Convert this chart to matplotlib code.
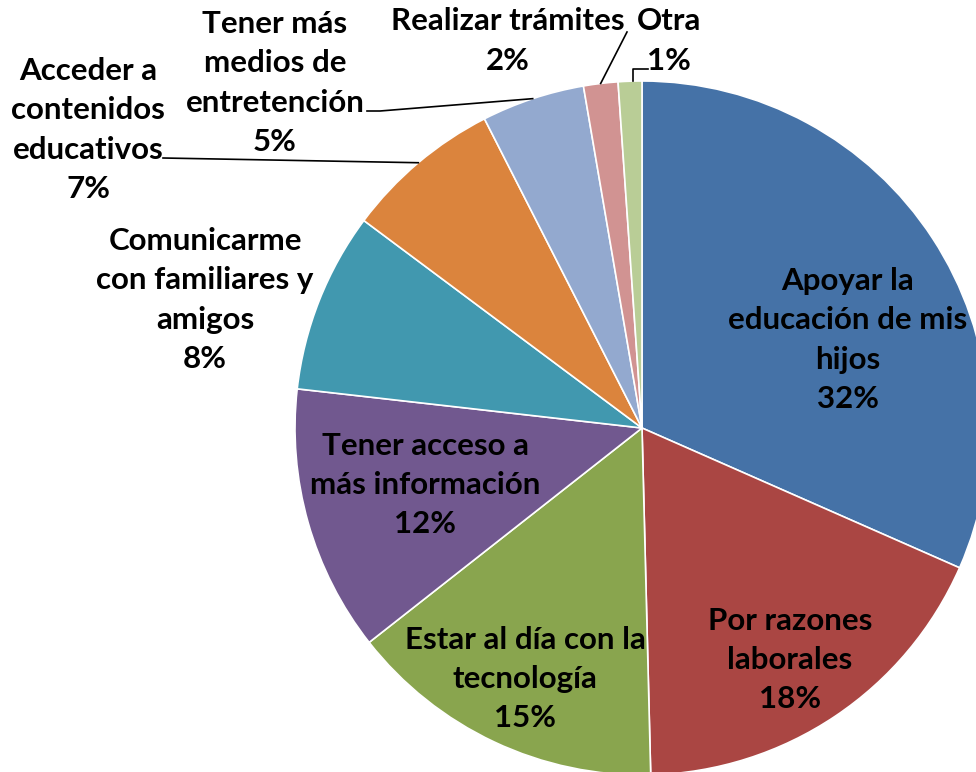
from matplotlib import pyplot as plt
import numpy as np

# motivos (orden de la torta, desde arriba en sentido horario)
labels = ['Apoyar la\neducación de mis\nhijos', 'Por razones\nlaborales',
          'Estar al día con la\ntecnología', 'Tener acceso a\nmás información',
          'Comunicarme\ncon familiares y\namigos', 'Acceder a\ncontenidos\neducativos',
          'Tener más\nmedios de\nentretención', 'Realizar trámites', 'Otra']
values = [31.6, 18.0, 14.8, 12.4, 8.4, 7.3, 4.8, 1.6, 1.1]
pcts = ['32%', '18%', '15%', '12%', '8%', '7%', '5%', '2%', '1%']
colors = ['#4572A7', '#AA4643', '#89A54E', '#71588F', '#4198AF',
          '#DB843D', '#93A9CF', '#D19392', '#B9CD96']

W, H = 976, 772
cx, cy, R = 642, H - 428, 347

# label positions (pixels, y from top)
lab_xy = [(848, 340), (790, 660), (525, 679), (425, 485), (205, 300),
          (88, 130), (275, 83), (508, 41), (669, 41)]
# text-side ends of leader lines (only for outside labels)
leaders = {5: [(163, 158)], 6: [(367, 111), (380, 111)],
           7: [(627, 32)], 8: [(648, 69), (633, 69)]}

fig = plt.figure(figsize=(W / 100, H / 100), dpi=100)
ax = fig.add_axes([0, 0, 1, 1])
wedges, _ = ax.pie(values, colors=colors, startangle=90, counterclock=False,
                   center=(cx, cy), radius=R,
                   wedgeprops=dict(edgecolor='white', linewidth=1.2))
ax.set_xlim(0, W)
ax.set_ylim(0, H)
ax.set_aspect('equal')
ax.axis('off')

for i, (lab, p) in enumerate(zip(labels, pcts)):
    x, y = lab_xy[i]
    ax.text(x, H - y, lab + '\n' + p, ha='center', va='center',
            fontsize=22.5, fontweight='bold', family='Lato', linespacing=1.48,
            color='black')
    if i in leaders:
        w = wedges[i]
        th = np.deg2rad((w.theta1 + w.theta2) / 2)
        ax_pt = (cx + R * np.cos(th), cy + R * np.sin(th))
        pts = [(px, H - py) for px, py in leaders[i]]
        if i == 8:
            pts.append((pts[-1][0], ax_pt[1]))
        else:
            pts.append(ax_pt)
        xs, ys = zip(*pts)
        ax.plot(xs, ys, color='black', lw=1.2)

fig.savefig('out.png', dpi=100)
